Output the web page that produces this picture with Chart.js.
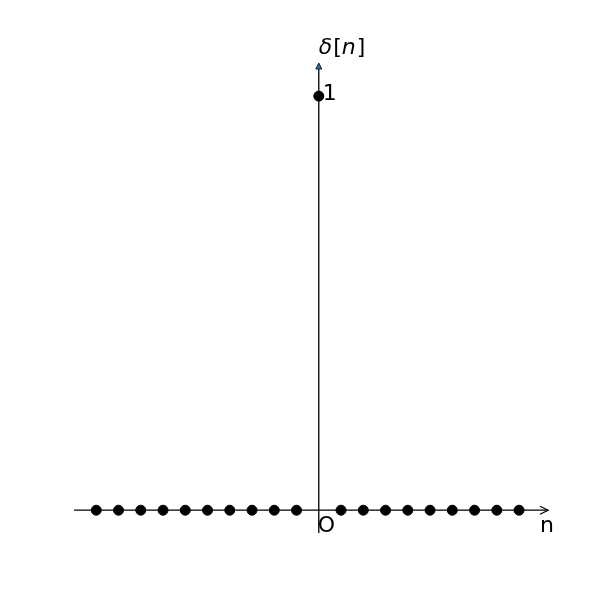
<!DOCTYPE html>
<html>
<head>
<meta charset="utf-8">
<script src="https://cdn.jsdelivr.net/npm/chart.js@4"></script>
<style>
html,body{margin:0;padding:0;background:#fff;}
#wrap{width:600px;height:600px;}
</style>
</head>
<body>
<div id="wrap"><canvas id="c" width="600" height="600"></canvas></div>
<script>
const nValues = [-10,-9,-8,-7,-6,-5,-4,-3,-2,-1,0,1,2,3,4,5,6,7,8,9];
const deltaValues = [0,0,0,0,0,0,0,0,0,0,1,0,0,0,0,0,0,0,0,0];
const xRange = [-11, 10.3];
const yRange = [-0.055, 1.08];
const yTickLabel = '1';
const xAxisLabel = 'n';
const originLabel = 'O';

const points = nValues.map((n, i) => ({x: n, y: deltaValues[i]}));

const axesPlugin = {
  id: 'axesPlugin',
  afterDatasetsDraw(chart) {
    const {ctx, scales: {x, y}} = chart;
    const x0 = x.getPixelForValue(0), y0 = y.getPixelForValue(0);
    const xl = x.getPixelForValue(xRange[0]), xr = x.getPixelForValue(xRange[1]);
    const yb = y.getPixelForValue(yRange[0]), yt = y.getPixelForValue(yRange[1]);
    ctx.save();
    ctx.strokeStyle = '#000';
    ctx.lineWidth = 1.3;
    // x axis
    ctx.beginPath(); ctx.moveTo(xl, y0); ctx.lineTo(xr, y0); ctx.stroke();
    // open arrow head
    ctx.beginPath(); ctx.moveTo(xr - 8, y0 - 4); ctx.lineTo(xr, y0); ctx.lineTo(xr - 8, y0 + 4); ctx.stroke();
    // y axis
    ctx.beginPath(); ctx.moveTo(x0, yb); ctx.lineTo(x0, yt + 5); ctx.stroke();
    // filled arrow head
    ctx.beginPath(); ctx.moveTo(x0, yt); ctx.lineTo(x0 - 3, yt + 6); ctx.lineTo(x0 + 3, yt + 6); ctx.closePath();
    ctx.fillStyle = '#1f77b4'; ctx.fill();
    ctx.lineWidth = 1; ctx.strokeStyle = '#0b1f3a'; ctx.stroke();
    // texts
    ctx.fillStyle = '#000';
    ctx.textBaseline = 'alphabetic';
    ctx.textAlign = 'left';
    const fs = 22;
    ctx.font = fs + 'px "DejaVu Sans"';
    ctx.fillText(originLabel, x0 - 1, y0 + 22);
    ctx.fillText(xAxisLabel, xr - 8, y0 + 22);
    ctx.fillText(yTickLabel, x0 + 4, y.getPixelForValue(1) + 4);
    // delta[n] label
    let tx = x0, ty = yt - 9;
    ctx.font = 'oblique ' + fs + 'px "DejaVu Sans"';
    ctx.fillText('δ', tx, ty); tx += ctx.measureText('δ').width + 1;
    ctx.font = fs + 'px "DejaVu Sans"';
    ctx.fillText('[', tx, ty); tx += ctx.measureText('[').width;
    ctx.font = 'oblique ' + fs + 'px "DejaVu Sans"';
    ctx.fillText('n', tx, ty); tx += ctx.measureText('n').width + 1;
    ctx.font = fs + 'px "DejaVu Sans"';
    ctx.fillText(']', tx, ty);
    ctx.restore();
  }
};

new Chart(document.getElementById('c'), {
  type: 'scatter',
  data: {
    datasets: [{
      data: points,
      backgroundColor: '#000',
      borderColor: '#000',
      pointRadius: 5,
      pointHoverRadius: 5,
      showLine: false
    }]
  },
  options: {
    responsive: false,
    animation: false,
    layout: {padding: {left: 74, right: 52, top: 63, bottom: 67}},
    plugins: {legend: {display: false}, tooltip: {enabled: false}},
    scales: {
      x: {type: 'linear', min: xRange[0], max: xRange[1], display: false},
      y: {type: 'linear', min: yRange[0], max: yRange[1], display: false}
    }
  },
  plugins: [axesPlugin]
});
</script>
</body>
</html>
